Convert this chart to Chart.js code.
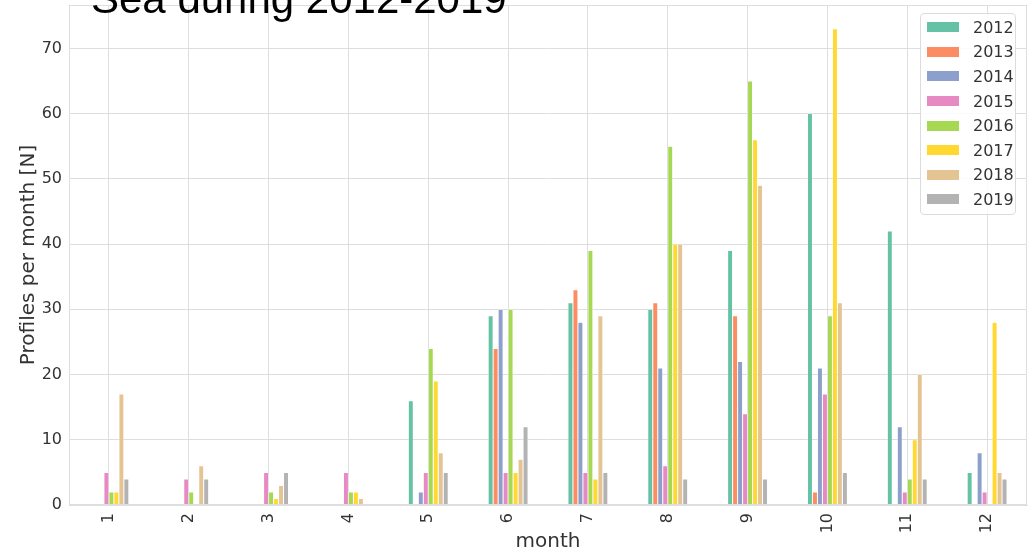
<!DOCTYPE html>
<html>
<head>
<meta charset="utf-8">
<script src="https://cdn.jsdelivr.net/npm/chart.js@4/dist/chart.umd.min.js"></script>
<style>
  html, body { margin: 0; padding: 0; background: #fff; }
  #wrap { position: relative; width: 1032px; height: 554px; overflow: hidden; }
  #title {
    position: absolute; left: 91px; top: -22px;
    font: 42px/42px "Liberation Sans", Arial, sans-serif; color: #000; white-space: nowrap;
  }
  #legend {
    position: absolute; left: 920px; top: 13px; width: 96px; height: 202px;
    border: 1px solid #dcdcdc; border-radius: 4px; background: rgba(255,255,255,0.85);
    box-sizing: border-box; padding-top: 1px;
    font: 16px "DejaVu Sans", sans-serif; color: #333;
  }
  .row { height: 24.6px; display: flex; align-items: center; }
  .sw { width: 32px; height: 10px; margin-left: 6px; margin-right: 14px; }
</style>
</head>
<body>
<div id="wrap">
  <canvas id="bar" width="1032" height="554"></canvas>
  <div id="title">Sea during 2012-2019</div>
  <div id="legend"></div>
</div>
<script>
const months = ['1', '2', '3', '4', '5', '6', '7', '8', '9', '10', '11', '12'];
const years = ['2012', '2013', '2014', '2015', '2016', '2017', '2018', '2019'];
const colors = ['#66c2a5', '#fc8d62', '#8da0cb', '#e78ac3', '#a6d854', '#ffd92f', '#e5c494', '#b3b3b3'];
const y2012 = [0, 0, 0, 0, 16, 29, 31, 30, 39, 60, 42, 5];
const y2013 = [0, 0, 0, 0, 0, 24, 33, 31, 29, 2, 0, 0];
const y2014 = [0, 0, 0, 0, 2, 30, 28, 21, 22, 21, 12, 8];
const y2015 = [5, 4, 5, 5, 5, 5, 5, 6, 14, 17, 2, 2];
const y2016 = [2, 2, 2, 2, 24, 30, 39, 55, 65, 29, 4, 0];
const y2017 = [2, 0, 1, 2, 19, 5, 4, 40, 56, 73, 10, 28];
const y2018 = [17, 6, 3, 1, 8, 7, 29, 40, 49, 31, 20, 5];
const y2019 = [4, 4, 5, 0, 5, 12, 5, 4, 4, 5, 4, 4];
const yTicks = [0, 10, 20, 30, 40, 50, 60, 70];

const series = [y2012, y2013, y2014, y2015, y2016, y2017, y2018, y2019];
const gridColor = '#dedede';
const tickFont = { family: 'DejaVu Sans', size: 16 };
const labelFont = { family: 'DejaVu Sans', size: 20 };

// frame around the plot like the seaborn spines
const frame = {
  id: 'frame',
  afterDraw(chart) {
    const { ctx, chartArea: a } = chart;
    ctx.save();
    ctx.strokeStyle = gridColor;
    ctx.lineWidth = 1;
    ctx.strokeRect(a.left + 0.5, a.top + 0.5, a.right - a.left - 1, a.bottom - a.top - 1);
    ctx.restore();
  }
};

new Chart(document.getElementById('bar'), {
  type: 'bar',
  data: {
    labels: months,
    datasets: years.map((yr, i) => ({
      label: yr,
      data: series[i],
      backgroundColor: colors[i],
      borderColor: '#ffffff',
      borderWidth: 0.5,
      categoryPercentage: 0.5,
      barPercentage: 1.0
    }))
  },
  options: {
    responsive: false,
    animation: false,
    layout: { padding: { top: 5, right: 5, left: 0, bottom: 0 } },
    plugins: {
      legend: { display: false },
      tooltip: { enabled: false }
    },
    scales: {
      x: {
        grid: { color: gridColor, offset: false, drawTicks: false },
        border: { color: gridColor },
        ticks: { color: '#333', font: tickFont, minRotation: 90, maxRotation: 90, padding: 8 },
        title: { display: true, text: 'month', color: '#333', font: labelFont, padding: 0 },
        afterFit(s) { s.height = 49; s.paddingLeft = 0; s.paddingRight = 0; }
      },
      y: {
        min: 0,
        max: 76.65,
        grid: { color: gridColor, drawTicks: false },
        border: { color: gridColor },
        afterBuildTicks(s) { s.ticks = yTicks.map(v => ({ value: v })); },
        ticks: { color: '#333', font: tickFont, padding: 7 },
        title: { display: true, text: 'Profiles per month [N]', color: '#333', font: labelFont, padding: { top: 17, bottom: 0 } },
        afterFit(s) { s.width = 69; s.paddingTop = 0; s.paddingBottom = 0; }
      }
    }
  },
  plugins: [frame]
});

const lg = document.getElementById('legend');
years.forEach((yr, i) => {
  const r = document.createElement('div');
  r.className = 'row';
  r.innerHTML = '<span class="sw" style="background:' + colors[i] + '"></span>' + yr;
  lg.appendChild(r);
});
</script>
</body>
</html>
